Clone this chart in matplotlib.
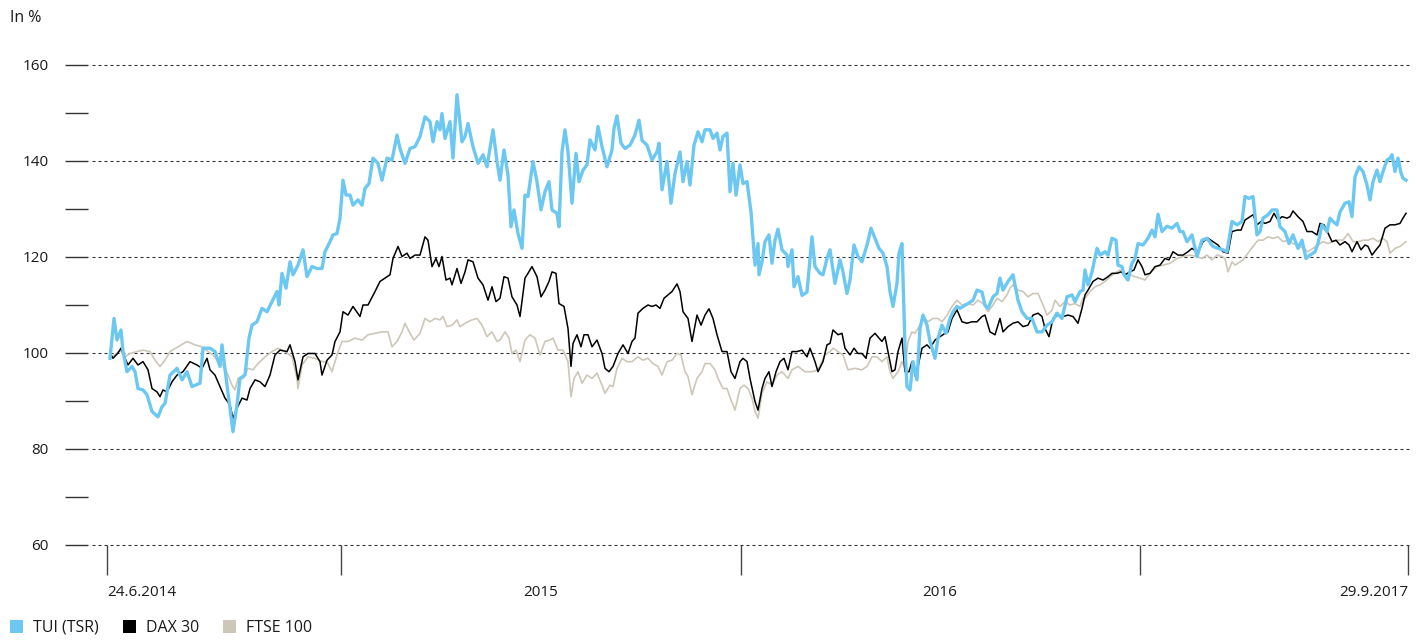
import matplotlib
matplotlib.use('Agg')
import matplotlib.pyplot as plt
from matplotlib.patches import Patch

plt.rcParams['font.family'] = ['Open Sans', 'DejaVu Sans']

# position along the time axis (0 = 24.6.2014), index in %
tui_t = [3, 7, 10, 14, 16, 20, 25, 28, 31, 36, 40, 45, 51, 55, 58, 63, 70, 75, 80, 85,
         93, 96, 103, 108, 113, 115, 120, 123, 126, 130, 133, 138, 142, 145, 150, 155, 160, 165, 170, 172,
         175, 179, 183, 186, 191, 196, 200, 205, 210, 215, 218, 223, 226, 230, 233, 236, 239, 243, 246, 251,
         255, 258, 262, 266, 271, 275, 280, 285, 290, 293, 298, 303, 308, 313,
         318, 323, 326, 330, 333, 335, 338, 343, 346, 350, 355, 358, 361, 366, 371, 376, 380, 383, 386, 390,
         393, 397, 401, 404, 407, 411, 415, 418, 421, 426, 430, 434, 438, 442, 445, 450, 452, 455, 458, 461,
         465, 469, 472, 476, 480, 483, 488, 491, 495, 500, 505, 507, 510, 514, 518, 523, 528, 532, 535, 540,
         545, 550, 552, 555, 560, 564, 568, 573, 576, 580, 583, 587, 591, 595, 598, 603, 606, 610, 613, 616,
         620, 623, 626, 629, 633, 636, 640, 644,
         648, 651, 652, 655, 658, 662, 665, 668, 671, 675, 680, 681, 685, 687, 691, 695, 700, 705, 708, 713,
         716, 720, 723, 728, 733, 736, 740, 743, 747, 751, 755, 760, 764, 768, 772, 776, 780, 783, 786, 790,
         792, 795, 798, 800, 803, 806, 810, 813, 816, 820, 823, 828, 831, 835, 839, 843, 846, 850, 853, 856,
         861, 866, 870, 875, 878, 881, 886, 890, 893, 896, 901, 906, 911, 915, 920, 925, 930, 935, 940, 945,
         950, 955, 960, 965, 968, 973, 976,
         978, 981, 985, 990, 993, 998, 1001, 1005, 1009, 1011, 1015, 1017, 1021, 1025, 1028, 1031, 1036, 1041, 1045, 1048,
         1051, 1055, 1060, 1065, 1070, 1073, 1076, 1080, 1085, 1090, 1095, 1100, 1106, 1111, 1116, 1120, 1125, 1130, 1135, 1138,
         1142, 1146, 1150, 1153, 1156, 1161, 1165, 1170, 1173, 1178, 1182, 1186, 1191, 1195, 1199, 1203, 1208, 1211, 1215, 1220,
         1223, 1226, 1230, 1233, 1238, 1242, 1245, 1248, 1252, 1256, 1260, 1263, 1266, 1270, 1273, 1276, 1280, 1283, 1285, 1288,
         1291, 1294, 1296, 1299]
tui = [98.9, 107.2, 102.7, 104.8, 100.3, 96.1, 97.2, 96.1, 92.6, 92.3, 91.3, 87.8, 86.7, 88.8, 89.5, 95.4, 96.8, 94.4, 96.1, 93.0,
       93.7, 101.0, 101.0, 100.3, 97.2, 101.7, 93.3, 88.5, 83.6, 89.2, 94.7, 95.4, 103.1, 105.8, 106.5, 109.3, 108.6, 110.7, 112.8, 110.0,
       116.6, 113.5, 119.0, 116.3, 118.3, 121.5, 115.9, 118.0, 117.6, 117.6, 121.1, 123.2, 124.6, 124.9, 128.1, 136.0, 132.9, 132.9, 130.8, 131.9,
       130.8, 134.3, 135.3, 140.6, 139.5, 136.0, 140.6, 140.2, 145.4, 142.6, 139.5, 142.6, 143.0, 145.1,
       149.2, 148.2, 144.0, 148.2, 146.5, 149.9, 144.7, 148.2, 140.6, 153.8, 144.0, 145.1, 147.8, 143.0, 139.5, 141.3, 138.8, 142.6, 146.5, 139.9,
       136.0, 142.3, 137.1, 126.3, 129.8, 124.9, 121.8, 132.9, 132.6, 139.9, 135.7, 129.8, 133.6, 135.7, 129.8, 129.1, 126.3, 141.9, 146.5, 141.9,
       131.2, 141.6, 135.7, 138.1, 139.2, 144.4, 142.3, 147.2, 143.0, 138.8, 142.3, 146.8, 149.4, 143.7, 142.6, 143.3, 145.4, 148.5, 144.3, 143.3,
       140.2, 141.9, 143.7, 134.0, 139.9, 131.2, 137.4, 141.9, 135.7, 139.9, 135.0, 143.3, 146.1, 144.0, 146.5, 146.5, 144.7, 145.8, 142.3, 145.1,
       145.8, 133.6, 139.5, 132.9, 139.2, 135.3, 135.7, 129.4,
       118.3, 122.8, 116.3, 119.0, 123.2, 124.6, 118.7, 123.5, 125.8, 121.5, 120.4, 118.0, 121.5, 113.8, 115.9, 112.0, 112.7, 124.2, 118.0, 116.6,
       116.3, 119.7, 121.5, 114.5, 119.4, 116.9, 112.4, 115.2, 122.5, 120.1, 119.0, 122.5, 126.0, 123.9, 121.8, 120.8, 118.0, 112.8, 109.7, 114.5,
       120.8, 122.8, 101.3, 93.0, 92.3, 98.2, 94.4, 105.1, 107.9, 105.8, 102.4, 98.9, 103.1, 105.8, 104.1, 107.2, 108.6, 109.7, 109.3, 109.7,
       110.3, 111.0, 113.1, 112.7, 110.0, 109.3, 111.7, 112.4, 115.6, 113.1, 114.9, 116.3, 111.0, 108.6, 107.2, 107.2, 104.4, 104.4, 105.8, 106.5,
       108.3, 107.2, 111.7, 112.1, 110.7, 112.8, 113.1,
       117.3, 114.2, 116.9, 121.8, 120.4, 121.1, 120.4, 123.9, 123.5, 118.3, 118.0, 116.3, 115.2, 118.7, 119.7, 122.8, 122.5, 123.9, 125.6, 124.2,
       128.9, 125.3, 126.4, 126.0, 127.0, 125.3, 125.3, 123.2, 124.6, 120.1, 123.5, 123.9, 122.2, 121.8, 121.5, 121.1, 127.4, 126.7, 127.4, 132.6,
       132.2, 132.6, 124.6, 125.3, 128.1, 128.8, 129.8, 129.8, 126.3, 125.3, 122.8, 124.6, 121.8, 123.5, 119.7, 120.4, 121.1, 122.8, 126.7, 125.3,
       128.1, 127.4, 126.7, 129.4, 131.2, 131.5, 128.4, 136.7, 138.8, 137.8, 135.0, 131.9, 135.7, 138.1, 135.7, 137.8, 140.2, 140.6, 141.3, 137.8,
       140.6, 137.5, 136.4, 136.0]

dax_t = [3, 6, 11, 14, 18, 21, 26, 31, 36, 41, 45, 50, 53, 56, 60, 65, 70, 76, 83, 90,
         95, 100, 103, 108, 113, 118, 123, 126, 130, 135, 140, 143, 148, 153, 158, 163, 168, 173, 180, 183,
         188, 191, 196, 201, 208, 213, 215, 220, 225, 228, 233, 236, 241, 246, 253, 256, 261, 268, 273, 278,
         283, 286, 291, 295, 300, 303, 308, 313,
         318, 321, 325, 329, 332, 335, 339, 343, 345, 350, 354, 358, 361, 366, 371, 376, 381, 385, 389, 393,
         397, 401, 405, 410, 413, 418, 421, 425, 430, 434, 438, 442, 445, 449, 452, 457, 461, 464, 466, 470,
         474, 477, 481, 485, 490, 495, 498, 502, 506, 511, 516, 521, 525, 528, 531, 536, 541, 545, 549, 553,
         557, 561, 565, 570, 573, 576, 581, 585, 590, 594, 598, 602, 606, 610, 615, 620, 624, 628, 633, 636,
         640, 643,
         648, 651, 655, 658, 662, 665, 669, 673, 677, 681, 685, 690, 695, 700, 703, 708, 711, 716, 720, 723,
         726, 731, 735, 738, 743, 747, 751, 755, 759, 763, 768, 772, 775, 778, 781, 785, 788, 791, 795, 798,
         802, 805, 809, 812, 815, 820, 823, 828, 833, 838, 841, 845, 850, 855, 860, 865, 870, 875, 878, 883,
         888, 893, 896, 901, 906, 911, 916, 921, 926, 931, 935, 938, 942, 946, 951, 956, 961, 966, 971, 975,
         978, 981, 986, 991, 996, 1001, 1005, 1010, 1014, 1018, 1023, 1027, 1031, 1035, 1038, 1043, 1048, 1053, 1058, 1062,
         1066, 1071, 1076, 1081, 1085, 1090, 1093, 1096, 1101, 1106, 1111, 1116, 1121, 1125, 1130, 1134, 1138, 1143, 1146, 1150,
         1154, 1158, 1163, 1167, 1171, 1175, 1180, 1183, 1186, 1191, 1196, 1200, 1205, 1210, 1213, 1217, 1221, 1225, 1229, 1233,
         1238, 1242, 1245, 1250, 1254, 1258, 1261, 1265, 1269, 1273, 1278, 1283, 1288, 1293, 1296, 1299]
dax = [99.9, 98.9, 100.0, 101.0, 98.9, 97.5, 98.9, 97.5, 98.2, 96.5, 92.6, 91.9, 90.9, 92.3, 91.9, 94.0, 95.4, 96.1, 98.2, 97.5,
       96.8, 98.9, 96.5, 95.4, 93.0, 90.6, 89.2, 86.4, 88.5, 90.6, 90.2, 92.6, 94.4, 94.0, 93.0, 95.4, 99.6, 100.6, 100.3, 101.7,
       98.2, 94.4, 99.2, 99.9, 99.9, 98.2, 95.4, 98.5, 99.6, 102.4, 104.4, 108.6, 107.9, 109.7, 107.6, 110.0, 110.0, 112.8, 114.9, 115.6,
       116.3, 119.7, 122.2, 120.1, 120.8, 119.7, 120.4, 120.4,
       124.2, 123.5, 118.0, 119.7, 118.0, 120.1, 115.2, 115.6, 114.2, 117.6, 114.5, 116.9, 119.4, 119.0, 115.6, 114.2, 111.0, 113.8, 110.7, 111.4,
       115.9, 115.6, 111.7, 110.0, 107.6, 115.6, 116.6, 118.0, 115.9, 111.7, 113.1, 114.9, 116.9, 116.6, 110.3, 109.7, 105.1, 97.2, 102.0, 103.8,
       101.3, 103.8, 103.8, 101.3, 102.7, 99.9, 96.8, 96.1, 97.2, 99.9, 101.7, 99.9, 102.4, 103.1, 108.3, 109.3, 110.0, 109.7, 110.0, 109.3,
       111.4, 112.1, 112.8, 114.4, 112.8, 108.6, 107.2, 102.4, 107.9, 105.8, 107.9, 109.2, 107.2, 103.8, 100.3, 100.3, 96.1, 94.7, 98.2, 98.9,
       98.2, 94.7,
       89.9, 88.1, 92.6, 94.7, 96.1, 93.0, 96.1, 98.2, 98.9, 96.5, 100.3, 100.3, 100.6, 99.2, 101.0, 98.2, 96.1, 98.2, 101.7, 102.0,
       104.8, 103.8, 104.1, 101.0, 99.6, 101.0, 99.9, 99.9, 98.9, 103.1, 104.1, 103.1, 102.4, 103.4, 100.3, 96.1, 96.5, 100.3, 103.1, 96.1,
       96.1, 98.2, 94.7, 98.2, 101.0, 101.7, 101.0, 102.7, 103.4, 104.1, 104.4, 107.2, 109.0, 106.5, 106.2, 106.5, 106.5, 107.6, 107.9, 104.4,
       103.8, 107.2, 104.4, 105.5, 106.2, 106.5, 105.5, 105.8, 107.9, 108.3, 107.6, 105.1, 103.4, 107.2, 107.9, 107.6, 107.9, 107.6, 106.2, 109.3,
       112.1, 113.1, 114.9, 115.6, 115.2, 115.9, 116.6, 116.6, 116.9, 116.3, 116.9, 117.3, 119.4, 118.0, 116.3, 116.6, 118.0, 118.3, 119.7, 119.4,
       121.1, 120.4, 120.4, 121.1, 121.8, 121.1, 121.8, 123.2, 123.9, 123.2, 122.5, 121.1, 120.8, 125.3, 125.6, 125.6, 127.7, 128.4, 128.8, 126.7,
       127.4, 127.0, 127.4, 129.1, 127.7, 128.4, 128.1, 128.4, 129.6, 128.4, 127.4, 125.3, 125.3, 124.6, 127.0, 126.7, 125.0, 123.2, 123.5, 122.5,
       123.2, 122.5, 121.1, 123.2, 121.5, 122.5, 122.2, 120.4, 121.5, 122.5, 126.0, 126.7, 126.7, 127.0, 128.1, 129.1]

ftse_t = [3, 8, 13, 18, 23, 30, 36, 43, 48, 53, 58, 63, 71, 80, 88, 95, 101, 106, 111, 116,
          121, 125, 128, 131, 136, 141, 146, 151, 158, 165, 171, 178, 185, 190, 191, 195, 201, 208, 215, 220,
          225, 230, 235, 241, 248, 255, 261, 268, 275, 281, 285, 290, 295, 298, 303, 307, 313,
          318, 323, 328, 333, 336, 340, 345, 350, 353, 358, 365, 370, 375, 380, 385, 390, 393, 398, 402, 405,
          409, 413, 418, 423, 428, 433, 438, 443, 446, 451, 456, 461, 464, 467, 471, 475, 480, 485, 490, 495,
          498, 503, 506, 510, 515, 520, 525, 531, 536, 541, 546, 551, 555, 560, 565, 570, 574, 578, 581, 585,
          590, 595, 598, 603, 608, 611, 616, 620, 624, 628, 633, 637, 641, 645,
          648, 651, 655, 660, 665, 670, 675, 681, 685, 691, 698, 705, 711, 718, 723, 726, 731, 736, 741, 748,
          755, 760, 765, 770, 775, 780, 783, 786, 791, 795, 798, 801, 805, 808, 813, 816, 821, 826, 831, 835,
          840, 845, 850, 855, 861, 866, 871, 876, 881, 886, 890, 895, 900, 903, 906, 911, 916, 921, 926, 931,
          936, 940, 945, 948, 953, 958, 963, 968, 973, 976,
          978, 983, 988, 993, 998, 1003, 1008, 1013, 1018, 1023, 1028, 1033, 1038, 1043, 1050, 1056, 1063, 1070, 1076, 1083,
          1090, 1095, 1100, 1105, 1110, 1115, 1118, 1121, 1125, 1128, 1131, 1136, 1141, 1146, 1151, 1156, 1161, 1166, 1171, 1176,
          1181, 1186, 1191, 1196, 1201, 1206, 1211, 1216, 1221, 1226, 1231, 1236, 1241, 1246, 1251, 1256, 1261, 1266, 1271, 1276,
          1280, 1283, 1288, 1293, 1299]
ftse = [99.2, 99.6, 100.6, 99.2, 99.9, 100.3, 100.6, 100.3, 98.5, 97.2, 98.5, 100.3, 101.3, 102.4, 101.7, 101.3, 100.3, 99.6, 98.2, 97.5,
        95.4, 93.3, 92.3, 94.7, 94.7, 96.8, 96.5, 97.8, 99.2, 100.3, 101.0, 100.3, 99.2, 94.7, 92.6, 97.5, 99.2, 98.9, 98.2, 98.2,
        96.1, 99.6, 102.4, 102.4, 103.1, 102.7, 103.8, 104.1, 104.4, 104.4, 101.3, 102.4, 104.4, 106.2, 104.1, 102.7, 104.1,
        107.2, 106.5, 107.2, 106.9, 107.6, 105.5, 105.8, 106.9, 105.5, 106.2, 106.9, 107.2, 105.8, 103.4, 104.4, 102.4, 102.7, 104.4, 103.1, 99.9,
        100.6, 98.2, 102.7, 103.8, 103.1, 99.6, 102.4, 102.7, 103.1, 100.6, 100.6, 98.2, 90.9, 94.7, 96.1, 93.7, 95.4, 94.7, 95.8, 93.3,
        91.6, 93.3, 93.0, 96.8, 98.9, 98.2, 98.2, 99.2, 98.5, 98.9, 97.8, 97.2, 95.4, 98.2, 98.5, 99.9, 99.6, 96.1, 95.1, 91.3,
        94.7, 96.1, 97.8, 97.8, 96.5, 94.7, 92.6, 92.6, 90.2, 88.1, 92.6, 93.3, 92.6, 90.6,
        87.8, 86.4, 91.6, 94.0, 93.3, 95.4, 96.1, 94.7, 96.5, 97.2, 96.1, 96.1, 96.5, 99.6, 100.3, 101.0, 100.3, 99.6, 96.5, 96.8,
        96.5, 97.2, 99.2, 99.2, 98.2, 99.2, 96.1, 94.7, 96.1, 98.2, 96.8, 102.4, 104.4, 104.1, 105.8, 107.6, 106.5, 107.2, 107.2, 106.5,
        107.9, 109.7, 111.0, 110.0, 110.3, 110.0, 111.0, 110.3, 108.6, 110.0, 111.4, 110.7, 112.1, 113.5, 114.2, 113.1, 112.8, 111.7, 112.4, 112.4,
        110.0, 107.9, 108.9, 111.0, 109.7, 110.7, 110.0, 110.3, 109.7, 111.4,
        111.4, 112.8, 113.8, 114.2, 114.9, 115.9, 116.6, 117.3, 116.6, 116.3, 115.9, 115.6, 115.2, 116.6, 118.0, 118.3, 118.7, 119.7, 120.1, 120.4,
        120.1, 119.7, 120.4, 119.4, 120.4, 120.1, 119.7, 116.9, 119.0, 118.3, 118.7, 119.4, 120.8, 122.2, 123.5, 123.5, 124.2, 123.9, 124.2, 123.2,
        123.5, 122.8, 122.5, 121.8, 121.1, 121.8, 122.5, 123.2, 122.8, 123.2, 123.5, 123.5, 124.9, 123.2, 123.2, 123.5, 123.5, 123.9, 123.2, 123.9,
        123.2, 120.8, 121.8, 122.2, 123.2]

assert len(tui_t) == len(tui) and len(dax_t) == len(dax) and len(ftse_t) == len(ftse)

series = ['TUI (TSR)', 'DAX 30', 'FTSE 100']
colors = ['#6cc8f0', '#000000', '#cdc7b9']

tick_pos = [0, 234, 634, 1033, 1301]            # vertical separators
label_pos = [0, 434, 833, 1301]
label_txt = ['24.6.2014', '2015', '2016', '29.9.2017']

fig = plt.figure(figsize=(14.21, 6.41), dpi=100)
ax = fig.add_axes([65 / 1421, 96 / 641, 1345 / 1421, 480 / 641])
ax.set_xlim(-42, 1303)
ax.set_ylim(60, 160)
for s in ax.spines.values():
    s.set_visible(False)

# dotted grid
for y in range(60, 161, 20):
    ax.hlines(y, -15, 1303, colors='#333333', linestyles=(0, (2.7, 2.7)), linewidth=0.8,
              zorder=1, clip_on=False)

ax.plot(ftse_t, ftse, color=colors[2], lw=1.2, zorder=2, solid_joinstyle='round')
ax.plot(dax_t, dax, color=colors[1], lw=1.1, zorder=3, solid_joinstyle='round')
ax.plot(tui_t, tui, color=colors[0], lw=2.4, zorder=4, solid_joinstyle='round')

# y axis
ax.set_yticks(range(60, 161, 20))
ax.set_yticks(range(70, 160, 20), minor=True)
ax.tick_params(axis='y', which='both', direction='in', length=16.5, width=1,
               color='#333333', pad=12, labelsize=11, labelcolor='#1a1a1a')

# x axis
ax.xaxis.remove_overlapping_locs = False
ax.set_xticks(tick_pos)
ax.set_xticklabels([''] * len(tick_pos))
ax.set_xticks(label_pos, minor=True)
ax.set_xticklabels(label_txt, minor=True)
ax.tick_params(axis='x', which='major', direction='out', length=21.6, width=1, color='#444444')
ax.tick_params(axis='x', which='minor', length=0, pad=28.8, labelsize=11, labelcolor='#1a1a1a')
labs = ax.get_xticklabels(minor=True)
labs[0].set_ha('left')
labs[-1].set_ha('right')

fig.text(10 / 1421, 1 - 18 / 641, 'In %', ha='left', va='center', fontsize=11.5, color='#1a1a1a')

handles = [Patch(facecolor=c, edgecolor='none', label=l) for c, l in zip(colors, series)]
fig.legend(handles=handles, loc='center left', bbox_to_anchor=(10 / 1421, 13 / 641), ncol=3,
           frameon=False, fontsize=11.5, handlelength=0.8, handleheight=0.8, handletextpad=0.65,
           columnspacing=1.5, borderaxespad=0, borderpad=0, labelcolor='#1a1a1a')

fig.savefig('out.png', dpi=100)
